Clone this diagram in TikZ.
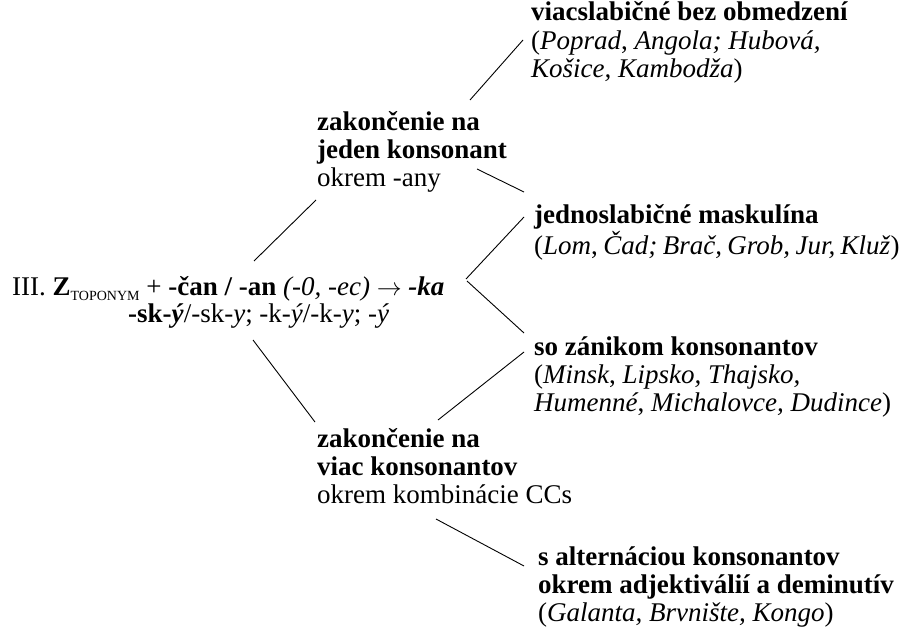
\documentclass[tikz,border=0pt]{standalone}
\usepackage{fontspec}
\setmainfont{Liberation Serif}
\usetikzlibrary{calc}
\tikzset{
  txt/.style={inner sep=0pt, anchor=base west, font=\fontsize{27}{28.3}\selectfont},
  conn/.style={line width=0.9pt, black}
}
\newcommand{\blk}[1]{\begin{tabular}[t]{@{}l@{}}#1\end{tabular}}
\begin{document}
\begin{tikzpicture}[x=1pt,y=-1pt]
\useasboundingbox (0,0) rectangle (904,642);
% root
\node[txt] (root) at (12,295) {III. \textbf{Z}\raisebox{-5pt}{\fontsize{14}{14}\selectfont TOPONYM} + \textbf{-čan / -an} \textit{(-0, -ec)} $\rightarrow$ \textbf{\textit{-ka}}};
\node[txt] (rootb) at (128,322) {\textbf{-sk-\textit{ý}}/-sk-\textit{y}; -k-\textit{ý}/-k-\textit{y}; -\textit{ý}};
% middle
\node[txt] (topmid) at (317,130) {\blk{\textbf{zakončenie na}\\ \textbf{jeden konsonant}\\ okrem -any}};
\node[txt] (botmid) at (317,447) {\blk{\textbf{zakončenie na}\\ \textbf{viac konsonantov}\\ okrem kombinácie CCs}};
% right
\node[txt] (r1) at (531,21) {\blk{\textbf{viacslabičné bez obmedzení}\\ (\textit{Poprad}, \textit{Angola; Hubová,}\\ \textit{Košice, Kambodža})}};
\node[txt] (r2) at (534,223) {\blk{\textbf{jednoslabičné maskulína}\\ {\spaceskip=0.2em plus 0.05em(\textit{Lom}, \textit{Čad; Brač, Grob, Jur, Kluž})}}};
\node[txt] (r3) at (534,355) {\blk{\textbf{so zánikom konsonantov}\\ (\textit{Minsk}, \textit{Lipsko, Thajsko,}\\ \textit{Humenné}, \textit{Michalovce, Dudince})}};
\node[txt] (r4) at (538,565) {\blk{\textbf{s alternáciou konsonantov}\\ \textbf{okrem adjektiválií a deminutív}\\ (\textit{Galanta, Brvnište, Kongo})}};
% connector ends
\coordinate (a1) at (254,261); \coordinate (b1) at (316,200);
\coordinate (a2) at (253,340); \coordinate (b2) at (315,422);
\coordinate (a3) at (470,100); \coordinate (b3) at (523,40);
\coordinate (a4) at (477,169); \coordinate (b4) at (524,192);
\coordinate (a5) at (466,279); \coordinate (b5) at (524,217);
\coordinate (a6) at (467,281); \coordinate (b6) at (524,333);
\coordinate (a7) at (438,420); \coordinate (b7) at (524,352);
\coordinate (a8) at (436,519); \coordinate (b8) at (524,566);
\foreach \i in {1,...,8} \draw[conn] (a\i) -- (b\i);
\end{tikzpicture}
\end{document}
